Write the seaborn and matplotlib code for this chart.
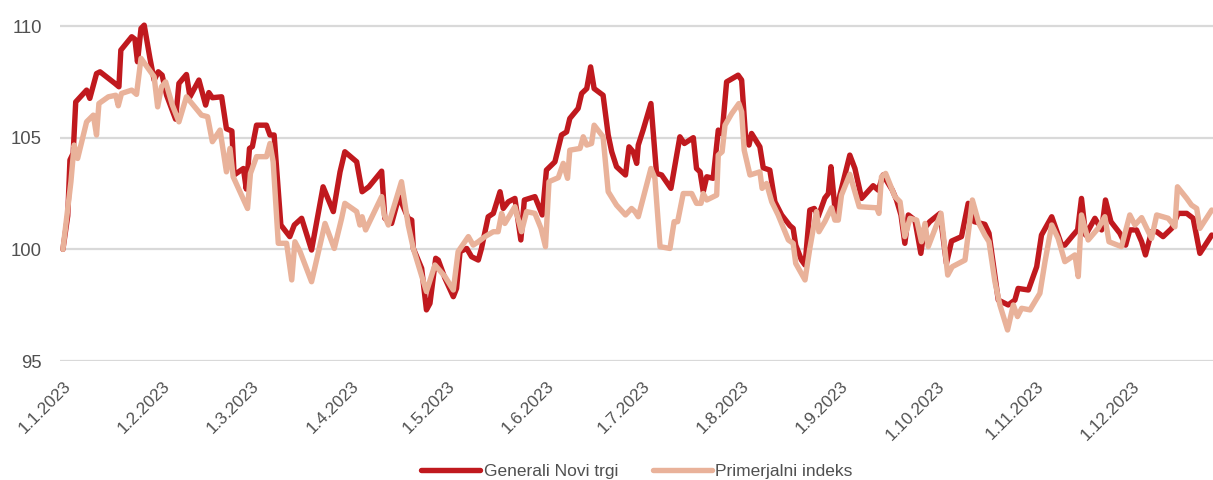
import matplotlib
matplotlib.use('Agg')
import pandas as pd
import matplotlib.pyplot as plt
import matplotlib.dates as mdates
import seaborn as sns

# Podatki odčitani s slike: dan v letu 2023 (0 = 1.1.) in vrednost indeksa
fund_days = [0, 1.5, 2.2, 3.2, 4.0, 7.4, 8.4, 10.5, 11.6, 16.25, 17.5, 18.1, 21.5, 22.5, 23.3, 24.4,
             25.4, 27.2, 28.5, 29.8, 31.0, 32.4, 35.2, 36.25, 38.6, 39.7, 42.5, 44.6, 45.6, 46.7,
             49.6, 51.1, 52.8, 53.5, 56.4, 57.3, 58.3, 59.2, 60.5, 63.6, 64.7, 66.0, 68.1, 70.9,
             72.3, 74.6, 77.7, 81.3, 84.5, 86.6, 88.1, 91.8, 93.5, 95.6, 99.6, 100.6, 102.7, 105.0,
             107.9, 109.0, 109.5, 112.1, 113.6, 114.7, 116.5, 117.3, 119.4, 122.0, 123.0, 124.1,
             126.2, 127.7, 129.8, 130.8, 132.9, 134.5, 136.6, 137.6, 139.2, 141.25, 143.1, 144.2,
             147.5, 149.8, 151.1, 153.75, 155.8, 157.4, 158.4, 161.0, 162.1, 163.7, 164.9, 166.0,
             168.8, 170.4, 171.5, 173.0, 175.8, 176.9, 178.2, 179.3, 179.8, 181.3, 183.75, 185.5,
             187.1, 190.0, 192.8, 194.2, 197.0, 198.0, 199.1, 200.1, 201.2, 203.2, 204.8, 206.0,
             207.4, 211.0, 212.1, 213.3, 214.4, 215.2, 217.8, 218.85, 220.9, 222.5, 224.6, 227.2,
             228.2, 229.0, 230.8, 231.9, 233.4, 234.8, 236.0, 238.1, 239.2, 240.0, 241.5, 242.8,
             245.9, 247.5, 249.6, 253.2, 254.8, 256.3, 259.2, 260.5, 261.9, 263.1, 264.2, 266.25,
             268.1, 269.2, 270.9, 274.1, 276.1, 277.7, 280.8, 282.9, 284.8, 288.1, 289.4, 292.3,
             295.4, 297.5, 298.5, 301.7, 304.3, 305.8, 309.0, 312.1, 313.1, 315.7, 317.1, 318.3,
             319.6, 322.5, 324.6, 325.8, 327.5, 330.3, 332.1, 333.4, 335.5, 337.1, 338.3, 340.2,
             341.8, 343.8, 346.5, 348.5, 351.2, 353.2, 355.3, 359.0]
fund_vals = [100.0, 101.5, 104.0, 104.3, 106.6, 107.13, 106.76, 107.87, 107.95, 107.43, 107.28, 108.92,
             109.52, 109.41, 108.4, 109.89, 110.04, 108.55, 107.58, 107.95, 107.8, 106.9, 105.83,
             107.43, 107.83, 106.83, 107.58, 106.46, 107.02, 106.79, 106.83, 105.4, 105.3, 103.33,
             103.62, 102.7, 104.52, 104.6, 105.56, 105.56, 105.12, 105.12, 101.09, 100.57, 101.09,
             101.39, 99.97, 102.8, 101.69, 103.47, 104.37, 103.92, 102.58, 102.8, 103.5, 101.39,
             101.16, 102.36, 101.39, 101.31, 100.04, 99.15, 97.29, 97.58, 99.6, 99.52, 98.7, 97.88,
             98.25, 99.9, 100.04, 99.67, 99.52, 100.04, 101.46, 101.61, 102.58, 101.83, 102.13,
             102.28, 100.42, 102.21, 102.36, 101.54, 103.55, 103.92, 105.12, 105.26, 105.86, 106.31,
             106.98, 107.2, 108.17, 107.2, 106.9, 105.12, 104.37, 103.7, 103.33, 104.59, 104.37,
             103.85, 104.67, 105.34, 106.53, 103.4, 103.33, 102.73, 105.04, 104.74, 105.0, 103.62,
             103.47, 102.58, 103.25, 103.18, 105.34, 105.19, 107.5, 107.8, 107.58, 105.12, 104.67,
             105.19, 104.59, 103.65, 103.55, 102.13, 101.54, 101.06, 100.94, 100.19, 99.52, 99.3,
             101.76, 101.83, 101.46, 102.3, 102.5, 103.7, 101.46, 102.43, 104.22, 103.62, 102.28,
             102.85, 102.65, 103.33, 102.65, 102.21, 101.54, 100.27, 101.54, 101.31, 99.82, 100.94,
             101.24, 101.61, 99.37, 100.37, 100.57, 102.06, 101.24, 101.12, 100.72, 97.73, 97.51,
             97.73, 98.25, 98.18, 99.22, 100.64, 101.46, 100.19, 100.19, 100.64, 100.87, 102.28,
             100.64, 101.39, 100.87, 102.21, 101.24, 100.72, 100.19, 100.87, 100.87, 100.34, 99.75,
             100.79, 100.79, 100.57, 100.94, 101.61, 101.61, 101.39, 99.82, 100.64]

bench_days = [0, 2.5, 3.5, 4.6, 7.4, 9.5, 10.5, 11.25, 14.2, 16.5, 17.3, 18.3, 21.5, 23.0, 24.4, 28.5,
              29.6, 30.8, 32.1, 34.2, 36.25, 38.6, 43.3, 45.2, 46.7, 49.1, 51.1, 52.2, 53.2, 57.7,
              58.6, 60.5, 63.6, 64.7, 65.7, 67.3, 69.9, 71.5, 72.5, 74.1, 77.7, 81.9, 84.8, 87.1,
              88.1, 91.8, 92.8, 93.5, 94.6, 99.6, 100.4, 101.7, 105.8, 107.9, 109.5, 113.6, 116.25,
              119.4, 122.0, 123.5, 126.7, 128.2, 129.8, 131.9, 134.5, 136.0, 137.1, 138.1, 141.25,
              143.3, 144.9, 147.5, 149.4, 150.8, 151.9, 154.8, 156.35, 157.7, 158.4, 161.6, 162.6,
              163.7, 165.2, 166.0, 168.8, 170.4, 173.0, 175.8, 177.7, 178.75, 179.8, 183.75, 185.0,
              186.6, 189.7, 191.0, 192.1, 193.85, 196.5, 198.0, 199.4, 200.1, 201.2, 204.3, 204.8,
              206.0, 206.9, 209.0, 211.25, 212.1, 212.9, 214.7, 217.8, 218.5, 219.9, 221.5, 223.5,
              226.7, 228.2, 229.0, 231.9, 233.4, 234.5, 235.5, 236.25, 238.1, 240.2, 241.25, 242.3,
              243.3, 245.9, 248.85, 254.3, 255.0, 255.8, 257.1, 260.0, 261.6, 263.1, 264.7, 266.8,
              268.3, 269.4, 270.4, 274.4, 276.5, 277.9, 281.9, 284.2, 286.25, 288.1, 289.4, 291.25,
              292.8, 295.2, 297.0, 298.3, 299.6, 302.2, 305.3, 306.9, 309.0, 311.0, 313.1, 316.25,
              317.3, 318.3, 320.4, 323.5, 325.6, 326.9, 330.8, 333.4, 335.0, 337.1, 340.2, 341.8,
              345.4, 347.5, 348.3, 351.2, 352.7, 354.3, 355.3, 359.0]
bench_vals = [100.0, 103.03, 104.67, 104.07, 105.71, 106.01, 105.12, 106.53, 106.83, 106.9, 106.43,
              106.98, 107.13, 106.94, 108.55, 107.73, 106.38, 107.28, 107.5, 106.46, 105.71, 106.83,
              106.01, 105.94, 104.82, 105.34, 103.47, 104.52, 103.25, 101.83, 103.4, 104.15, 104.15,
              104.74, 103.92, 100.27, 100.27, 98.63, 100.34, 99.9, 98.55, 101.16, 100.04, 101.39,
              102.06, 101.69, 101.09, 101.46, 100.87, 102.36, 101.54, 101.09, 103.03, 101.09, 100.04,
              98.11, 99.3, 98.78, 98.18, 99.9, 100.57, 100.19, 100.34, 100.57, 100.79, 100.79, 101.61,
              101.16, 101.91, 100.79, 101.69, 101.61, 100.94, 100.12, 103.03, 103.21, 103.85, 103.18,
              104.44, 104.52, 105.04, 104.67, 104.74, 105.56, 105.04, 102.58, 101.98, 101.54, 101.83,
              101.69, 101.46, 103.62, 103.18, 100.12, 100.04, 101.24, 101.24, 102.5, 102.5, 102.06,
              102.06, 102.5, 102.21, 102.43, 104.22, 104.37, 105.56, 106.08, 106.53, 106.16, 104.44,
              103.33, 103.47, 102.73, 102.95, 102.13, 101.54, 100.42, 100.27, 99.37, 98.63, 100.04,
              100.94, 101.69, 100.79, 101.24, 101.86, 101.31, 101.31, 102.43, 103.36, 101.91, 101.86,
              101.61, 103.25, 103.4, 102.36, 102.13, 100.57, 101.39, 101.31, 100.34, 101.16, 100.12,
              101.61, 98.85, 99.22, 99.52, 102.21, 101.16, 100.64, 100.34, 98.55, 97.51, 96.39, 97.51,
              96.99, 97.36, 97.29, 98.03, 99.45, 101.09, 100.49, 99.45, 99.75, 98.78, 101.54, 100.42,
              100.94, 101.46, 100.34, 100.12, 101.54, 101.09, 101.42, 100.49, 101.54, 101.39, 101.01,
              102.8, 102.28, 101.98, 101.83, 100.94, 101.76]

series_names = ["Generali Novi trgi", "Primerjalni indeks"]
colors = ["#C0191E", "#E9B29A"]
y_ticks = [95, 100, 105, 110]

start = pd.Timestamp("2023-01-01")
df = pd.concat([
    pd.DataFrame({"datum": start + pd.to_timedelta(fund_days, unit="D"),
                  "vrednost": fund_vals, "serija": series_names[0]}),
    pd.DataFrame({"datum": start + pd.to_timedelta(bench_days, unit="D"),
                  "vrednost": bench_vals, "serija": series_names[1]}),
])

sns.set_theme(style="white")
plt.rcParams["font.family"] = ["Liberation Sans", "DejaVu Sans"]

fig = plt.figure(figsize=(12.13, 4.8), dpi=100)
ax = fig.add_axes([0.0495, 0.2479, 0.9505, 0.7258])

sns.lineplot(data=df, x="datum", y="vrednost", hue="serija", hue_order=series_names,
             palette=colors, linewidth=3.9, sort=False, ax=ax, legend=False)
for ln in ax.lines:
    ln.set_solid_joinstyle("round")

ax.set_xlim(start - pd.Timedelta(days=0.9), start + pd.Timedelta(days=359.4))
ax.set_ylim(95, 110.6)
ax.set_yticks(y_ticks)
ax.yaxis.grid(True, color="#D9D9D9", linewidth=1.6)
ax.xaxis.grid(False)
ax.set_axisbelow(True)
for s in ax.spines.values():
    s.set_visible(False)
ax.set_xlabel("")
ax.set_ylabel("")

ax.xaxis.set_major_locator(mdates.MonthLocator())
ax.xaxis.set_major_formatter(plt.FuncFormatter(
    lambda v, p: f"{mdates.num2date(v).day}.{mdates.num2date(v).month}.{mdates.num2date(v).year}"))
ax.tick_params(axis="x", length=0, pad=12.5, labelsize=12.3, labelcolor="#505050")
ax.tick_params(axis="y", length=0, pad=13, labelsize=13.3, labelcolor="#505050")
for lbl in ax.get_xticklabels():
    lbl.set_rotation(45)
    lbl.set_ha("right")
    lbl.set_rotation_mode("anchor")

handles = [plt.Line2D([], [], color=c, linewidth=3.9, solid_capstyle="round") for c in colors]
fig.legend(handles, series_names, loc="lower center", bbox_to_anchor=(0.525, -0.03), ncol=2,
           frameon=False, fontsize=12.5, handlelength=3.4, handletextpad=0.2, columnspacing=2.0,
           labelcolor="#505050")

fig.savefig("out.png", dpi=100)
